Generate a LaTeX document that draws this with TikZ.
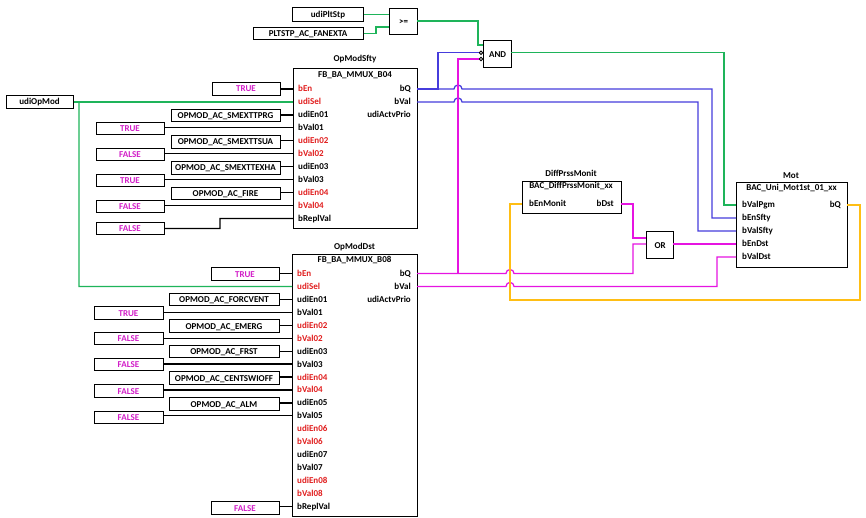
\documentclass[tikz,border=0pt]{standalone}
\usepackage{fontspec}
\setmainfont{Carlito}
\definecolor{wgreen}{RGB}{30,180,90}
\definecolor{wblue}{RGB}{70,60,220}
\definecolor{wmag}{RGB}{230,20,225}
\definecolor{wyel}{RGB}{255,190,20}
\definecolor{cmag}{RGB}{210,30,200}
\definecolor{pred}{RGB}{225,30,30}
\begin{document}
\begin{tikzpicture}[x=1pt,y=-1pt,
  font=\fontsize{9}{10}\selectfont\bfseries,
  cbox/.style={draw, line width=1pt, minimum height=12.5pt, inner sep=0pt, text height=6pt, text depth=0pt, fill=white},
  blk/.style={draw, line width=1.2pt, inner sep=0pt, anchor=north west, fill=white},
  wire/.style={line width=1.25pt},
  pinl/.style={anchor=west, inner sep=0pt, text height=6pt, text depth=0pt},
  pinr/.style={anchor=east, inner sep=0pt, text height=6pt, text depth=0pt},
  ttl/.style={inner sep=0pt, text height=6pt, text depth=0pt},
  neg/.style={circle, draw, inner sep=0pt, minimum size=3.5pt, line width=0.8pt, fill=white}]
\useasboundingbox (0,0) rectangle (866,518);
\fill[white] (0,0) rectangle (866,518);

% ---------- blocks ----------
\node[blk, minimum width=124pt, minimum height=160pt] (sfty) at (293,68) {};
\node[blk, minimum width=125pt, minimum height=262pt] (dst) at (292,254) {};
\node[blk, minimum width=111pt, minimum height=85pt] (mot) at (736,182) {};
\node[blk, minimum width=99pt, minimum height=32pt] (diff) at (522,181) {};
\node[blk, minimum width=28pt, minimum height=26pt] (ge) at (389,8) {>=};
\node[blk, minimum width=28pt, minimum height=27pt] (and) at (483,40) {AND};
\node[blk, minimum width=27pt, minimum height=27pt] (or) at (646,231) {OR};

% titles
\node[ttl] (sftyn) at (355,59) {OpModSfty};
\node[ttl] (sftyt) at (355,75) {FB\_BA\_MMUX\_B04};
\node[ttl] (dstn) at (354.5,246.5) {OpModDst};
\node[ttl] (dstt) at (354.5,259.5) {FB\_BA\_MMUX\_B08};
\node[ttl] (motn) at (791,176) {Mot};
\node[ttl] (mott) at (791.5,187.5) {BAC\_Uni\_Mot1st\_01\_xx};
\node[ttl] (diffn) at (571,174) {DiffPrssMonit};
\node[ttl] (difft) at (571,186) {BAC\_DiffPrssMonit\_xx};

% pin coordinates
\foreach \i in {0,...,10} \coordinate (sL\i) at (293,{89+12.94*\i});
\foreach \i in {0,...,2} \coordinate (sR\i) at (417,{89+12.94*\i});
\foreach \i in {0,...,18} \coordinate (dL\i) at (292,{273.5+12.94*\i});
\foreach \i in {0,...,2} \coordinate (dR\i) at (417,{273.5+12.94*\i});
\foreach \i in {0,...,4} \coordinate (mL\i) at (736,{205+13*\i});
\coordinate (mR0) at (847,205);
\coordinate (diffL) at (522,204);
\coordinate (diffR) at (621,204);
\coordinate (geA) at (389,14.5);
\coordinate (geB) at (389,27);
\coordinate (geO) at (417,21);
\coordinate (andA) at (483,45);
\coordinate (andO) at (511,52.7);
\coordinate (orA) at (646,238);
\coordinate (orB) at (646,244);
\coordinate (orO) at (673,244);

% pin labels
\foreach \l/\c [count=\i from 0] in {bEn/pred,udiSel/pred,udiEn01/black,bVal01/black,udiEn02/pred,bVal02/pred,udiEn03/black,bVal03/black,udiEn04/pred,bVal04/pred,bReplVal/black}
  \node[pinl, text=\c] at (298,{89+12.94*\i}) {\l};
\foreach \l [count=\i from 0] in {bQ,bVal,udiActvPrio}
  \node[pinr] at (411,{89+12.94*\i}) {\l};
\foreach \l/\c [count=\i from 0] in {bEn/pred,udiSel/pred,udiEn01/black,bVal01/black,udiEn02/pred,bVal02/pred,udiEn03/black,bVal03/black,udiEn04/pred,bVal04/pred,udiEn05/black,bVal05/black,udiEn06/pred,bVal06/pred,udiEn07/black,bVal07/black,udiEn08/pred,bVal08/pred,bReplVal/black}
  \node[pinl, text=\c] at (297,{273.5+12.94*\i}) {\l};
\foreach \l [count=\i from 0] in {bQ,bVal,udiActvPrio}
  \node[pinr] at (411,{273.5+12.94*\i}) {\l};
\foreach \l [count=\i from 0] in {bValPgm,bEnSfty,bValSfty,bEnDst,bValDst}
  \node[pinl] at (742,{205+13*\i}) {\l};
\node[pinr] at (841,205) {bQ};
\node[pinl] at (529,204) {bEnMonit};
\node[pinr] at (614,204) {bDst};

% ---------- constants ----------
\node[cbox, minimum width=67pt] (opmod) at (39.5,102) {udiOpMod};
\node[cbox, minimum width=71pt, minimum height=14pt] (plt) at (328,14.5) {udiPltStp};
\node[cbox, minimum width=110pt] (fan) at (308,33.5) {PLTSTP\_AC\_FANEXTA};

% OpModSfty inputs
\node[cbox, minimum width=68pt, text=cmag] (s0) at (246,89) {TRUE};
\node[cbox, minimum width=109pt] (s2) at (225.5,115.5) {OPMOD\_AC\_SMEXTTPRG};
\node[cbox, minimum width=68pt, text=cmag] (s3) at (130,128.5) {TRUE};
\node[cbox, minimum width=109pt] (s4) at (225.5,142) {OPMOD\_AC\_SMEXTTSUA};
\node[cbox, minimum width=68pt, text=cmag] (s5) at (130,154.5) {FALSE};
\node[cbox, minimum width=109pt] (s6) at (225.5,168) {OPMOD\_AC\_SMEXTTEXHA};
\node[cbox, minimum width=68pt, text=cmag] (s7) at (130,180.5) {TRUE};
\node[cbox, minimum width=109pt] (s8) at (225.5,193.5) {OPMOD\_AC\_FIRE};
\node[cbox, minimum width=68pt, text=cmag] (s9) at (130,206.5) {FALSE};
\node[cbox, minimum width=68pt, text=cmag] (s10) at (130,228.5) {FALSE};

\foreach \i in {0,2,3,4,5,6,7,8,9}
  \draw[wire] (s\i.east |- sL\i) -- (sL\i);
\draw[wire] (s10.east) -- (220,228.5) -- (220,218.4) -- (sL10);

% OpModDst inputs
\node[cbox, minimum width=68pt, text=cmag] (d0) at (245,274) {TRUE};
\node[cbox, minimum width=110pt] (d2) at (224,299.5) {OPMOD\_AC\_FORCVENT};
\node[cbox, minimum width=69pt, text=cmag] (d3) at (128.5,313) {TRUE};
\node[cbox, minimum width=110pt] (d4) at (224,326) {OPMOD\_AC\_EMERG};
\node[cbox, minimum width=69pt, text=cmag] (d5) at (128.5,338.5) {FALSE};
\node[cbox, minimum width=110pt] (d6) at (224,351.5) {OPMOD\_AC\_FRST};
\node[cbox, minimum width=69pt, text=cmag] (d7) at (128.5,364.5) {FALSE};
\node[cbox, minimum width=110pt] (d8) at (224,378) {OPMOD\_AC\_CENTSWIOFF};
\node[cbox, minimum width=69pt, text=cmag] (d9) at (128.5,391) {FALSE};
\node[cbox, minimum width=110pt] (d10) at (224,404) {OPMOD\_AC\_ALM};
\node[cbox, minimum width=69pt, text=cmag] (d11) at (128.5,417.5) {FALSE};
\node[cbox, minimum width=68pt, text=cmag] (d18) at (245,508) {FALSE};

\foreach \i in {0,2,3,4,5,6,7,8,9,10,11,18}
  \draw[wire] (d\i.east |- dL\i) -- (dL\i);

% ---------- AND negations ----------
\node[neg] (negB) at (481,52.7) {};
\node[neg] (negC) at (481,59) {};

% ---------- wires ----------
% green
\draw[wire, wgreen] (opmod.east |- sL1) -- (sL1);
\draw[wire, wgreen] (79,101.9) -- (79,286.4) -- (dL1);
\draw[wire, wgreen] (plt.east |- geA) -- (geA);
\draw[wire, wgreen] (fan.east) -- (376,33.5) -- (376,27) -- (geB);
\draw[wire, wgreen] (geO) -- (478,21) -- (478,45) -- (andA);
\draw[wire, wgreen] (andO) -- (724,52.7) -- (724,205) -- (mL0);

% blue
\draw[wire, wblue] (sR0) -- (438,89) -- (438,52.7) -- (negB.west);
\draw[wire, wblue] (438,89) -- (454,89) arc[start angle=180, end angle=0, radius=4pt] -- (712,89) -- (712,218) -- (mL1);
\draw[wire, wblue] (sR1) -- (454,101.9) arc[start angle=180, end angle=0, radius=4pt] -- (698,101.9) -- (698,231) -- (mL2);

% magenta
\draw[wire, wmag] (dR0) -- (506,273.5) arc[start angle=180, end angle=0, radius=4pt] -- (633,273.5) -- (633,244) -- (orB);
\draw[wire, wmag] (458,273.5) -- (458,59) -- (negC.west);
\draw[wire, wmag] (dR1) -- (506,286.4) arc[start angle=180, end angle=0, radius=4pt] -- (717,286.4) -- (717,257) -- (mL4);
\draw[wire, wmag] (diffR) -- (633,204) -- (633,238) -- (orA);
\draw[wire, wmag] (orO) -- (mL3);

% yellow
\draw[wire, wyel] (mR0) -- (860,205) -- (860,300) -- (510,300) -- (510,204) -- (diffL);

\end{tikzpicture}
\end{document}
